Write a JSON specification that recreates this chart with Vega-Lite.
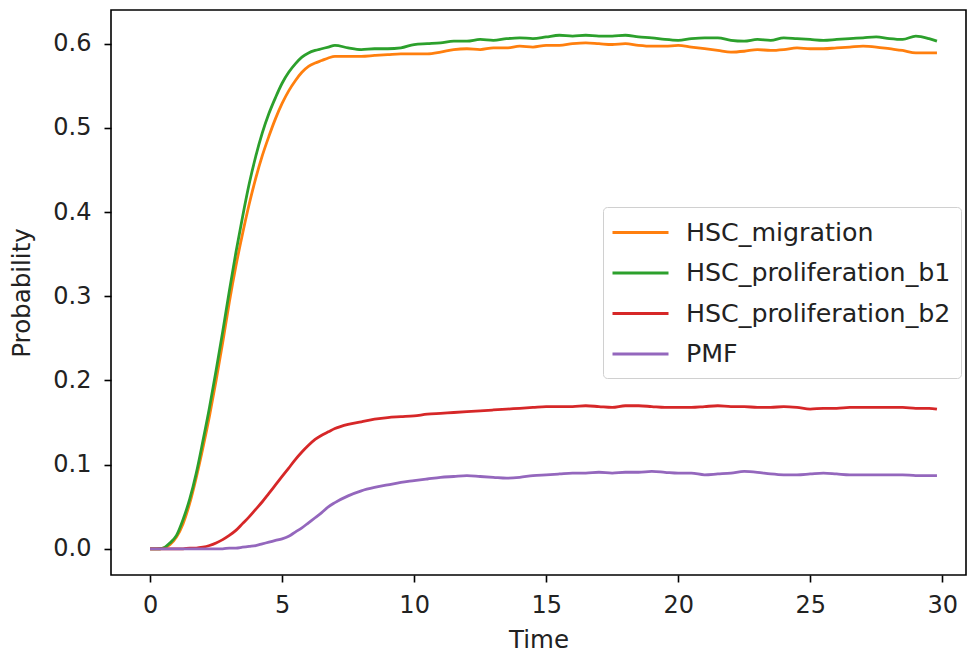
{
  "$schema": "https://vega.github.io/schema/vega-lite/v6.json",
  "width": 855,
  "height": 565,
  "autosize": {"type": "none"},
  "padding": {"left": 111, "top": 10, "right": 2, "bottom": 80},
  "background": "white",
  "config": {
    "font": "DejaVu Sans",
    "view": {"stroke": "black", "strokeWidth": 1.6},
    "axis": {"grid": false, "domain": false, "tickColor": "black", "tickWidth": 1.6, "tickSize": 7,
             "labelFont": "DejaVu Sans", "labelFontSize": 24, "labelColor": "#222",
             "titleFont": "DejaVu Sans", "titleFontSize": 24.5, "titleFontWeight": "normal", "titleColor": "#222"}
  },
  "data": {"values": [
    {"t": 0, "HSC_migration": 0, "HSC_proliferation_b1": 0, "HSC_proliferation_b2": 0, "PMF": 0},
    {"t": 0.25, "HSC_migration": 0, "HSC_proliferation_b1": 0, "HSC_proliferation_b2": 0, "PMF": 0},
    {"t": 0.5, "HSC_migration": 0.001, "HSC_proliferation_b1": 0.001, "HSC_proliferation_b2": 0, "PMF": 0},
    {"t": 0.75, "HSC_migration": 0.005, "HSC_proliferation_b1": 0.007, "HSC_proliferation_b2": 0, "PMF": 0},
    {"t": 1.0, "HSC_migration": 0.014, "HSC_proliferation_b1": 0.016, "HSC_proliferation_b2": 0, "PMF": 0},
    {"t": 1.25, "HSC_migration": 0.03, "HSC_proliferation_b1": 0.035, "HSC_proliferation_b2": 0, "PMF": 0},
    {"t": 1.5, "HSC_migration": 0.054, "HSC_proliferation_b1": 0.059, "HSC_proliferation_b2": 0.001, "PMF": 0},
    {"t": 1.75, "HSC_migration": 0.085, "HSC_proliferation_b1": 0.09, "HSC_proliferation_b2": 0.001, "PMF": 0},
    {"t": 2.0, "HSC_migration": 0.12, "HSC_proliferation_b1": 0.128, "HSC_proliferation_b2": 0.002, "PMF": 0},
    {"t": 2.25, "HSC_migration": 0.158, "HSC_proliferation_b1": 0.168, "HSC_proliferation_b2": 0.004, "PMF": 0},
    {"t": 2.5, "HSC_migration": 0.2, "HSC_proliferation_b1": 0.212, "HSC_proliferation_b2": 0.007, "PMF": 0},
    {"t": 2.75, "HSC_migration": 0.245, "HSC_proliferation_b1": 0.258, "HSC_proliferation_b2": 0.011, "PMF": 0},
    {"t": 3.0, "HSC_migration": 0.293, "HSC_proliferation_b1": 0.306, "HSC_proliferation_b2": 0.016, "PMF": 0.001},
    {"t": 3.25, "HSC_migration": 0.336, "HSC_proliferation_b1": 0.352, "HSC_proliferation_b2": 0.022, "PMF": 0.001},
    {"t": 3.5, "HSC_migration": 0.374, "HSC_proliferation_b1": 0.394, "HSC_proliferation_b2": 0.03, "PMF": 0.002},
    {"t": 3.75, "HSC_migration": 0.409, "HSC_proliferation_b1": 0.433, "HSC_proliferation_b2": 0.038, "PMF": 0.003},
    {"t": 4.0, "HSC_migration": 0.44, "HSC_proliferation_b1": 0.466, "HSC_proliferation_b2": 0.047, "PMF": 0.004},
    {"t": 4.25, "HSC_migration": 0.467, "HSC_proliferation_b1": 0.494, "HSC_proliferation_b2": 0.056, "PMF": 0.006},
    {"t": 4.5, "HSC_migration": 0.49, "HSC_proliferation_b1": 0.517, "HSC_proliferation_b2": 0.066, "PMF": 0.008},
    {"t": 4.75, "HSC_migration": 0.511, "HSC_proliferation_b1": 0.536, "HSC_proliferation_b2": 0.076, "PMF": 0.01},
    {"t": 5.0, "HSC_migration": 0.529, "HSC_proliferation_b1": 0.553, "HSC_proliferation_b2": 0.086, "PMF": 0.012},
    {"t": 5.25, "HSC_migration": 0.544, "HSC_proliferation_b1": 0.566, "HSC_proliferation_b2": 0.096, "PMF": 0.015},
    {"t": 5.5, "HSC_migration": 0.556, "HSC_proliferation_b1": 0.576, "HSC_proliferation_b2": 0.106, "PMF": 0.02},
    {"t": 5.75, "HSC_migration": 0.566, "HSC_proliferation_b1": 0.584, "HSC_proliferation_b2": 0.115, "PMF": 0.025},
    {"t": 6.0, "HSC_migration": 0.573, "HSC_proliferation_b1": 0.589, "HSC_proliferation_b2": 0.123, "PMF": 0.031},
    {"t": 6.25, "HSC_migration": 0.577, "HSC_proliferation_b1": 0.592, "HSC_proliferation_b2": 0.13, "PMF": 0.037},
    {"t": 6.5, "HSC_migration": 0.58, "HSC_proliferation_b1": 0.594, "HSC_proliferation_b2": 0.135, "PMF": 0.043},
    {"t": 6.75, "HSC_migration": 0.583, "HSC_proliferation_b1": 0.596, "HSC_proliferation_b2": 0.139, "PMF": 0.05},
    {"t": 7.0, "HSC_migration": 0.585, "HSC_proliferation_b1": 0.598, "HSC_proliferation_b2": 0.143, "PMF": 0.055},
    {"t": 7.5, "HSC_migration": 0.585, "HSC_proliferation_b1": 0.595, "HSC_proliferation_b2": 0.148, "PMF": 0.063},
    {"t": 8.0, "HSC_migration": 0.585, "HSC_proliferation_b1": 0.593, "HSC_proliferation_b2": 0.151, "PMF": 0.069},
    {"t": 8.5, "HSC_migration": 0.586, "HSC_proliferation_b1": 0.594, "HSC_proliferation_b2": 0.154, "PMF": 0.073},
    {"t": 9.0, "HSC_migration": 0.587, "HSC_proliferation_b1": 0.594, "HSC_proliferation_b2": 0.156, "PMF": 0.076},
    {"t": 9.5, "HSC_migration": 0.588, "HSC_proliferation_b1": 0.595, "HSC_proliferation_b2": 0.157, "PMF": 0.079},
    {"t": 10.0, "HSC_migration": 0.588, "HSC_proliferation_b1": 0.599, "HSC_proliferation_b2": 0.158, "PMF": 0.081},
    {"t": 10.5, "HSC_migration": 0.588, "HSC_proliferation_b1": 0.6, "HSC_proliferation_b2": 0.16, "PMF": 0.083},
    {"t": 11.0, "HSC_migration": 0.59, "HSC_proliferation_b1": 0.601, "HSC_proliferation_b2": 0.161, "PMF": 0.085},
    {"t": 11.5, "HSC_migration": 0.593, "HSC_proliferation_b1": 0.603, "HSC_proliferation_b2": 0.162, "PMF": 0.086},
    {"t": 12.0, "HSC_migration": 0.594, "HSC_proliferation_b1": 0.603, "HSC_proliferation_b2": 0.163, "PMF": 0.087},
    {"t": 12.5, "HSC_migration": 0.593, "HSC_proliferation_b1": 0.605, "HSC_proliferation_b2": 0.164, "PMF": 0.086},
    {"t": 13.0, "HSC_migration": 0.595, "HSC_proliferation_b1": 0.604, "HSC_proliferation_b2": 0.165, "PMF": 0.085},
    {"t": 13.5, "HSC_migration": 0.595, "HSC_proliferation_b1": 0.606, "HSC_proliferation_b2": 0.166, "PMF": 0.084},
    {"t": 14.0, "HSC_migration": 0.597, "HSC_proliferation_b1": 0.607, "HSC_proliferation_b2": 0.167, "PMF": 0.085},
    {"t": 14.5, "HSC_migration": 0.596, "HSC_proliferation_b1": 0.606, "HSC_proliferation_b2": 0.168, "PMF": 0.087},
    {"t": 15.0, "HSC_migration": 0.598, "HSC_proliferation_b1": 0.608, "HSC_proliferation_b2": 0.169, "PMF": 0.088},
    {"t": 15.5, "HSC_migration": 0.598, "HSC_proliferation_b1": 0.61, "HSC_proliferation_b2": 0.169, "PMF": 0.089},
    {"t": 16.0, "HSC_migration": 0.6, "HSC_proliferation_b1": 0.609, "HSC_proliferation_b2": 0.169, "PMF": 0.09},
    {"t": 16.5, "HSC_migration": 0.601, "HSC_proliferation_b1": 0.61, "HSC_proliferation_b2": 0.17, "PMF": 0.09},
    {"t": 17.0, "HSC_migration": 0.6, "HSC_proliferation_b1": 0.609, "HSC_proliferation_b2": 0.169, "PMF": 0.091},
    {"t": 17.5, "HSC_migration": 0.599, "HSC_proliferation_b1": 0.609, "HSC_proliferation_b2": 0.168, "PMF": 0.09},
    {"t": 18.0, "HSC_migration": 0.6, "HSC_proliferation_b1": 0.61, "HSC_proliferation_b2": 0.17, "PMF": 0.091},
    {"t": 18.5, "HSC_migration": 0.598, "HSC_proliferation_b1": 0.608, "HSC_proliferation_b2": 0.17, "PMF": 0.091},
    {"t": 19.0, "HSC_migration": 0.597, "HSC_proliferation_b1": 0.607, "HSC_proliferation_b2": 0.169, "PMF": 0.092},
    {"t": 19.5, "HSC_migration": 0.597, "HSC_proliferation_b1": 0.605, "HSC_proliferation_b2": 0.168, "PMF": 0.091},
    {"t": 20.0, "HSC_migration": 0.598, "HSC_proliferation_b1": 0.604, "HSC_proliferation_b2": 0.168, "PMF": 0.09},
    {"t": 20.5, "HSC_migration": 0.596, "HSC_proliferation_b1": 0.606, "HSC_proliferation_b2": 0.168, "PMF": 0.09},
    {"t": 21.0, "HSC_migration": 0.594, "HSC_proliferation_b1": 0.607, "HSC_proliferation_b2": 0.169, "PMF": 0.088},
    {"t": 21.5, "HSC_migration": 0.592, "HSC_proliferation_b1": 0.607, "HSC_proliferation_b2": 0.17, "PMF": 0.089},
    {"t": 22.0, "HSC_migration": 0.59, "HSC_proliferation_b1": 0.604, "HSC_proliferation_b2": 0.169, "PMF": 0.09},
    {"t": 22.5, "HSC_migration": 0.591, "HSC_proliferation_b1": 0.603, "HSC_proliferation_b2": 0.169, "PMF": 0.092},
    {"t": 23.0, "HSC_migration": 0.593, "HSC_proliferation_b1": 0.605, "HSC_proliferation_b2": 0.168, "PMF": 0.091},
    {"t": 23.5, "HSC_migration": 0.592, "HSC_proliferation_b1": 0.604, "HSC_proliferation_b2": 0.168, "PMF": 0.089},
    {"t": 24.0, "HSC_migration": 0.593, "HSC_proliferation_b1": 0.607, "HSC_proliferation_b2": 0.169, "PMF": 0.088},
    {"t": 24.5, "HSC_migration": 0.595, "HSC_proliferation_b1": 0.606, "HSC_proliferation_b2": 0.168, "PMF": 0.088},
    {"t": 25.0, "HSC_migration": 0.594, "HSC_proliferation_b1": 0.605, "HSC_proliferation_b2": 0.166, "PMF": 0.089},
    {"t": 25.5, "HSC_migration": 0.594, "HSC_proliferation_b1": 0.604, "HSC_proliferation_b2": 0.167, "PMF": 0.09},
    {"t": 26.0, "HSC_migration": 0.595, "HSC_proliferation_b1": 0.605, "HSC_proliferation_b2": 0.167, "PMF": 0.089},
    {"t": 26.5, "HSC_migration": 0.596, "HSC_proliferation_b1": 0.606, "HSC_proliferation_b2": 0.168, "PMF": 0.088},
    {"t": 27.0, "HSC_migration": 0.597, "HSC_proliferation_b1": 0.607, "HSC_proliferation_b2": 0.168, "PMF": 0.088},
    {"t": 27.5, "HSC_migration": 0.596, "HSC_proliferation_b1": 0.608, "HSC_proliferation_b2": 0.168, "PMF": 0.088},
    {"t": 28.0, "HSC_migration": 0.594, "HSC_proliferation_b1": 0.606, "HSC_proliferation_b2": 0.168, "PMF": 0.088},
    {"t": 28.5, "HSC_migration": 0.592, "HSC_proliferation_b1": 0.605, "HSC_proliferation_b2": 0.168, "PMF": 0.088},
    {"t": 29.0, "HSC_migration": 0.589, "HSC_proliferation_b1": 0.609, "HSC_proliferation_b2": 0.167, "PMF": 0.087},
    {"t": 29.5, "HSC_migration": 0.589, "HSC_proliferation_b1": 0.606, "HSC_proliferation_b2": 0.167, "PMF": 0.087},
    {"t": 29.8, "HSC_migration": 0.589, "HSC_proliferation_b1": 0.603, "HSC_proliferation_b2": 0.166, "PMF": 0.087}
  ]},
  "transform": [
    {"fold": ["HSC_migration", "HSC_proliferation_b1", "HSC_proliferation_b2", "PMF"], "as": ["series", "p"]}
  ],
  "mark": {"type": "line", "strokeWidth": 2.8, "interpolate": "monotone"},
  "encoding": {
    "x": {"field": "t", "type": "quantitative", "title": "Time",
          "scale": {"domain": [-1.48, 30.9], "nice": false, "zero": false},
          "axis": {"values": [0, 5, 10, 15, 20, 25, 30], "format": "d", "labelPadding": 11, "titlePadding": 11}},
    "y": {"field": "p", "type": "quantitative", "title": "Probability",
          "scale": {"domain": [-0.031, 0.64], "nice": false, "zero": false},
          "axis": {"values": [0, 0.1, 0.2, 0.3, 0.4, 0.5, 0.6], "format": ".1f", "labelPadding": 13, "titlePadding": 18}},
    "color": {"field": "series", "type": "nominal",
              "scale": {"domain": ["HSC_migration", "HSC_proliferation_b1", "HSC_proliferation_b2", "PMF"],
                        "range": ["#ff7f0e", "#2ca02c", "#d62728", "#9467bd"]},
              "legend": {"title": null, "orient": "none", "legendX": 492, "legendY": 197,
                         "symbolType": "M-2,0L2,0", "symbolSize": 784, "symbolStrokeWidth": 3, "symbolOffset": 12,
                         "labelFont": "DejaVu Sans", "labelFontSize": 25.3, "labelColor": "#222", "labelLimit": 500,
                         "labelOffset": 30, "rowPadding": 11.5, "padding": 10,
                         "strokeColor": "#d0d0d0", "fillColor": "white", "cornerRadius": 4}}
  }
}
